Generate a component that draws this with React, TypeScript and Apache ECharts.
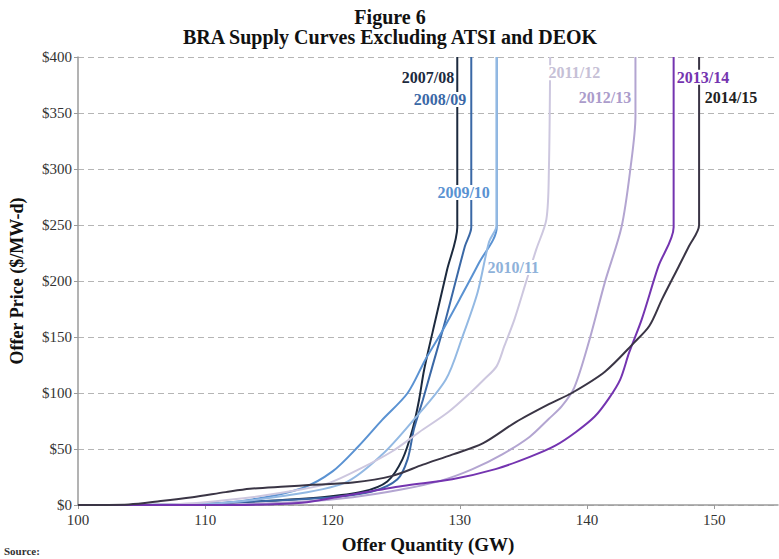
import React, { useEffect, useRef } from "react";
import * as echarts from "echarts";

// [GW, $/MW-day]
const s0708: [number, number][] = [
  [100, 0], [108.2, 0.5], [113.7, 3], [119.2, 7], [122.4, 12], [124.3, 21], [125.5, 41],
  [126.3, 68], [126.8, 94], [127.2, 121], [128.1, 166], [129, 210], [129.8, 248], [129.8, 400],
];
const s0809: [number, number][] = [
  [100, 0], [108.2, 0.5], [113.7, 3], [120, 7], [123.1, 12], [125.1, 23], [125.9, 41],
  [126.4, 68], [127.1, 94], [127.8, 122], [128.9, 166], [130.4, 231], [130.9, 248], [130.9, 400],
];
const s0910: [number, number][] = [
  [100, 0], [109.8, 1], [113.7, 5], [117.6, 15], [120, 30], [122, 52], [123.9, 76],
  [125.9, 100], [127.3, 130], [128.6, 155], [130, 184], [131.5, 216], [132.9, 248], [132.9, 400],
];
const s1011: [number, number][] = [
  [100, 0], [109.8, 1], [116.1, 8], [121, 20], [123.9, 45], [126.3, 75], [128.9, 112],
  [130.2, 150], [131.4, 190], [132.3, 235], [132.9, 250], [132.9, 400],
];
const s1112: [number, number][] = [
  [100, 0], [108, 1], [113, 6], [117.6, 14], [119.8, 20], [122.1, 32], [124.7, 48],
  [126.8, 65], [129.1, 83], [130.9, 101], [131.9, 112], [132.9, 124], [133.5, 142],
  [134.3, 166], [135.2, 199], [136.0, 228], [136.8, 255], [137.0, 300], [137.1, 400],
];
const s1213: [number, number][] = [
  [100, 0], [109.8, 0], [117.6, 3], [121.6, 7], [125.5, 14], [128.6, 22], [131, 32],
  [133.3, 45], [135.5, 61], [137, 77], [138, 88], [139, 105], [140.2, 148], [141.4, 199],
  [142.7, 248], [143.4, 300], [143.8, 347], [143.8, 400],
];
const s1314: [number, number][] = [
  [100, 0], [112.2, 0], [117.6, 2], [120.8, 8], [125.5, 17], [129.4, 23], [132.8, 32],
  [135.5, 43], [137.5, 53], [139.1, 65], [140.6, 79], [141.7, 95], [142.6, 112],
  [143.3, 136], [144.3, 166], [145.6, 213], [146.8, 248], [146.8, 400],
];
const s1415: [number, number][] = [
  [100, 0], [104, 0.5], [106.5, 3.5], [109, 7], [111.6, 11.5], [113.5, 14.5], [116.3, 16.5],
  [118.4, 18], [121.6, 20], [124.7, 26], [127.1, 36], [129.4, 45], [131.8, 55], [134.4, 74],
  [137, 90], [138.8, 100], [141.4, 119], [143.7, 145], [144.9, 160], [145.9, 184],
  [147.2, 213], [148, 231], [148.8, 250], [148.8, 400],
];

const names = ["2007/08", "2008/09", "2009/10", "2010/11", "2011/12", "2012/13", "2013/14", "2014/15"];
const seriesData = [s0708, s0809, s0910, s1011, s1112, s1213, s1314, s1415];
const lineColors = ["#1c2a3e", "#3a68a6", "#5a92d2", "#93b9e3", "#cdc7df", "#b3a5d1", "#7434b0", "#3a3545"];
const labelColors = ["#1c2a3e", "#3a68a6", "#5a92d2", "#8fb2da", "#c6c0d6", "#ab9ccb", "#7434b0", "#222222"];
const labelCoords: [number, number][] = [
  [127.5, 382], [128.45, 362], [130.3, 279], [134.2, 212],
  [139.0, 386], [141.4, 364], [149.1, 382], [151.3, 364],
];

const xTicks = { min: 100, max: 155, interval: 10 };
const yTicks = { min: 0, max: 400, interval: 50 };

const SERIF = "'Liberation Serif', 'DejaVu Serif', serif";

export default function App() {
  const ref = useRef<HTMLDivElement>(null);
  useEffect(() => {
    document.body.style.margin = "0";
    if (!ref.current) return;
    const chart = echarts.init(ref.current, undefined, { renderer: "svg" });
    const series = names.map((n, i) => ({
      name: n,
      type: "line",
      data: seriesData[i],
      showSymbol: false,
      symbol: "none",
      smooth: 0.3,
      lineStyle: { color: lineColors[i], width: 2 },
      itemStyle: { color: lineColors[i] },
      z: 2 + i * 0.01,
      markPoint: {
        symbol: "rect",
        symbolSize: [54, 15],
        z: 10,
        itemStyle: { color: "#ffffff" },
        label: {
          show: true,
          position: "inside",
          formatter: n,
          color: labelColors[i],
          fontFamily: SERIF,
          fontWeight: "bold",
          fontSize: 16,
        },
        data: [{ coord: labelCoords[i], value: n }],
      },
    }));
    chart.setOption({
      animation: false,
      backgroundColor: "#ffffff",
      title: {
        text: "Figure 6\nBRA Supply Curves Excluding ATSI and DEOK",
        left: 385,
        textAlign: "center",
        top: 2,
        textStyle: {
          fontFamily: SERIF,
          fontWeight: "bold",
          fontSize: 20,
          lineHeight: 20,
          color: "#111111",
        },
      },
      grid: { left: 73, right: 1, top: 57, bottom: 53, containLabel: false },
      xAxis: {
        type: "value",
        min: xTicks.min,
        max: xTicks.max,
        interval: xTicks.interval,
        name: "Offer Quantity (GW)",
        nameLocation: "middle",
        nameGap: 30,
        nameTextStyle: { fontFamily: SERIF, fontWeight: "bold", fontSize: 19, color: "#111" },
        axisLine: { show: true, lineStyle: { color: "#9a9a9a", width: 1.5 } },
        axisTick: { show: true, length: 4, lineStyle: { color: "#9a9a9a" } },
        axisLabel: { fontFamily: SERIF, fontSize: 15, color: "#333", margin: 7, showMaxLabel: false },
        splitLine: { show: false },
      },
      yAxis: {
        type: "value",
        min: yTicks.min,
        max: yTicks.max,
        interval: yTicks.interval,
        name: "Offer Price ($/MW-d)",
        nameLocation: "middle",
        nameRotate: 90,
        nameGap: 52,
        nameTextStyle: { fontFamily: SERIF, fontWeight: "bold", fontSize: 18, color: "#111" },
        axisLine: { show: true, lineStyle: { color: "#9a9a9a", width: 1.5 } },
        axisTick: { show: true, length: 4, lineStyle: { color: "#9a9a9a" } },
        axisLabel: {
          fontFamily: SERIF,
          fontSize: 15,
          color: "#333",
          margin: 6,
          formatter: (v: number) => "$" + v,
        },
        splitLine: { show: true, lineStyle: { color: "#b5b5b5", type: [6, 4], width: 1 } },
      },
      graphic: [
        {
          type: "text",
          left: 4,
          top: 545,
          z: 100,
          style: { text: "Source:", fontFamily: SERIF, fontWeight: "bold", fontSize: 11, fill: "#333" },
        },
      ],
      series,
    });
    return () => chart.dispose();
  }, []);
  return (
    <div
      ref={ref}
      style={{ position: "absolute", left: 0, top: 0, width: 779, height: 559, background: "#fff" }}
    />
  );
}
